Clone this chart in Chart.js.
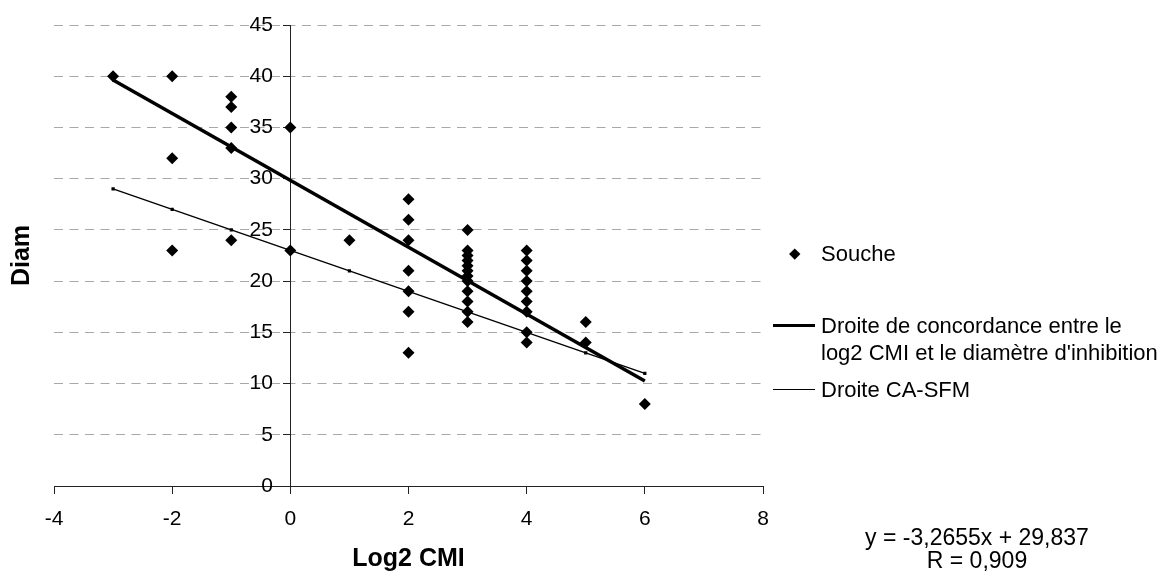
<!DOCTYPE html>
<html>
<head>
<meta charset="utf-8">
<title>Log2 CMI / Diam</title>
<script src="https://cdn.jsdelivr.net/npm/chart.js@4.4.0/dist/chart.umd.min.js"></script>
<style>
  html, body { margin: 0; padding: 0; background: #fff; }
  #wrap { position: relative; width: 1165px; height: 572px; font-family: 'Liberation Sans', Arial, sans-serif; color: #000; }
  #chart { position: absolute; left: 0; top: 0; }
  .lg { position: absolute; left: 773px; height: 27px; font-size: 22px; line-height: 27px; white-space: nowrap; }
  .lg .sym { position: absolute; background: #000; }
  .lg .txt { position: absolute; left: 48px; top: 0; }
  #eq { position: absolute; left: 857px; width: 240px; top: 526px; text-align: center; font-size: 23px; line-height: 23px; }
</style>
</head>
<body>
<div id="wrap">
  <canvas id="chart" width="1165" height="572"></canvas>
  <div id="legend"></div>
  <div id="eq"></div>
</div>
<script>
// ---- Data ----
const X_TICKS = [-4, -2, 0, 2, 4, 6, 8];
const Y_TICKS = [0, 5, 10, 15, 20, 25, 30, 35, 40, 45];

// strains: log2 of the MIC vs inhibition diameter
const soucheX = [-3, -2, -2, -2, -1, -1, -1, -1, -1, 0, 0, 1,
  2, 2, 2, 2, 2, 2, 2,
  3, 3, 3, 3, 3, 3, 3, 3, 3, 3, 3, 3,
  4, 4, 4, 4, 4, 4, 4, 4, 4,
  5, 5, 6];
const soucheY = [40, 40, 32, 23, 38, 37, 35, 33, 24, 35, 23, 24,
  28, 26, 24, 21, 19, 17, 13,
  25, 23, 22.5, 22, 21.5, 21, 20.5, 20, 19, 18, 17, 16,
  23, 22, 21, 20, 19, 18, 17, 15, 14,
  16, 14, 8];

// CA-SFM reference line
const caX = [-3, -2, -1, 0, 1, 2, 3, 4, 5, 6];
const caY = [29, 27, 25, 23, 21, 19, 17, 15, 13, 11];

// fitted line (as printed under the legend)
const REG_SLOPE = -3.2655;
const REG_INTERCEPT = 29.837;
const REG_R = 0.909;
const regX = [-3, 6];

const LABELS = ['Souche', ['Droite de concordance entre le', "log2 CMI et le diamètre d'inhibition"], 'Droite CA-SFM'];

// ---- Chart ----
const FONT = "'Liberation Sans', Arial, sans-serif";
const pts = (xs, ys) => xs.map((x, i) => ({ x, y: ys[i] }));

const chart = new Chart(document.getElementById('chart'), {
  type: 'scatter',
  data: {
    datasets: [
      {
        label: LABELS[0],
        data: pts(soucheX, soucheY),
        pointStyle: 'rectRot',
        pointRadius: 6,
        backgroundColor: '#000',
        borderColor: '#000',
        borderWidth: 0
      },
      {
        label: LABELS[1],
        data: regX.map(x => ({ x, y: REG_SLOPE * x + REG_INTERCEPT })),
        showLine: true,
        borderColor: '#000',
        borderWidth: 3.5,
        pointRadius: 0
      },
      {
        label: LABELS[2],
        data: pts(caX, caY),
        showLine: true,
        borderColor: '#000',
        backgroundColor: '#000',
        borderWidth: 1.4,
        pointStyle: 'rect',
        pointRadius: 1.3
      }
    ]
  },
  options: {
    responsive: false,
    animation: false,
    devicePixelRatio: 1,
    layout: { padding: { left: 0, right: 402, top: 25, bottom: 0 } },
    plugins: { legend: { display: false }, tooltip: { enabled: false } },
    scales: {
      x: {
        type: 'linear',
        position: 'bottom',
        min: X_TICKS[0],
        max: X_TICKS[X_TICKS.length - 1],
        afterBuildTicks: s => { s.ticks = X_TICKS.map(v => ({ value: v })); },
        afterFit: s => { s.height = 86; },
        ticks: { color: '#000', font: { family: FONT, size: 21 }, padding: 13 },
        grid: { drawOnChartArea: false, drawTicks: true, tickLength: 8, tickColor: '#222' },
        border: { color: '#222', width: 1 },
        title: {
          display: true, text: 'Log2 CMI', color: '#000',
          font: { family: FONT, size: 25, weight: 'bold', lineHeight: 1 },
          padding: { top: 0, bottom: 0 }
        }
      },
      y: {
        type: 'linear',
        position: { x: 0 },
        min: Y_TICKS[0],
        max: Y_TICKS[Y_TICKS.length - 1],
        afterBuildTicks: s => { s.ticks = Y_TICKS.map(v => ({ value: v })); },
        // an axis pinned at x = 0 puts its labels flush on the line,
        // trailing spaces push them clear of the tick marks
        ticks: { color: '#000', font: { family: FONT, size: 21 }, callback: v => v + '   ' },
        grid: { color: '#a8a8a8', lineWidth: 1, drawTicks: true, tickLength: 7, tickColor: '#222' },
        border: { color: '#222', width: 1, dash: [9, 6.5] }
      },
      // holds only the vertical axis title at the left edge
      yTitle: {
        type: 'linear',
        position: 'left',
        afterFit: s => { s.width = 54; },
        ticks: { display: false },
        grid: { display: false },
        border: { display: false },
        title: {
          display: true, text: 'Diam', color: '#000',
          font: { family: FONT, size: 25, weight: 'bold', lineHeight: 1 },
          padding: { top: 10, bottom: 0 }
        }
      }
    }
  }
});

// ---- Legend (built from the datasets) ----
const legendRows = [240, 312, 376];
const legend = document.getElementById('legend');
chart.data.datasets.forEach((ds, i) => {
  const row = document.createElement('div');
  row.className = 'lg';
  row.style.top = legendRows[i] + 'px';
  const sym = document.createElement('div');
  sym.className = 'sym';
  if (ds.showLine) {
    sym.style.left = '0px';
    sym.style.width = '42px';
    sym.style.height = ds.borderWidth + 'px';
    sym.style.top = (13.5 - ds.borderWidth / 2) + 'px';
  } else {
    sym.style.left = '18px';
    sym.style.top = '10px';
    sym.style.width = '7.5px';
    sym.style.height = '7.5px';
    sym.style.transform = 'rotate(45deg)';
  }
  const txt = document.createElement('div');
  txt.className = 'txt';
  txt.innerHTML = [].concat(ds.label).join('<br>');
  row.appendChild(sym);
  row.appendChild(txt);
  legend.appendChild(row);
});

const fr = v => String(v).replace('.', ',');
document.getElementById('eq').innerHTML =
  'y = ' + fr(REG_SLOPE) + 'x + ' + fr(REG_INTERCEPT) + '<br>R = ' + fr(REG_R);
</script>
</body>
</html>
